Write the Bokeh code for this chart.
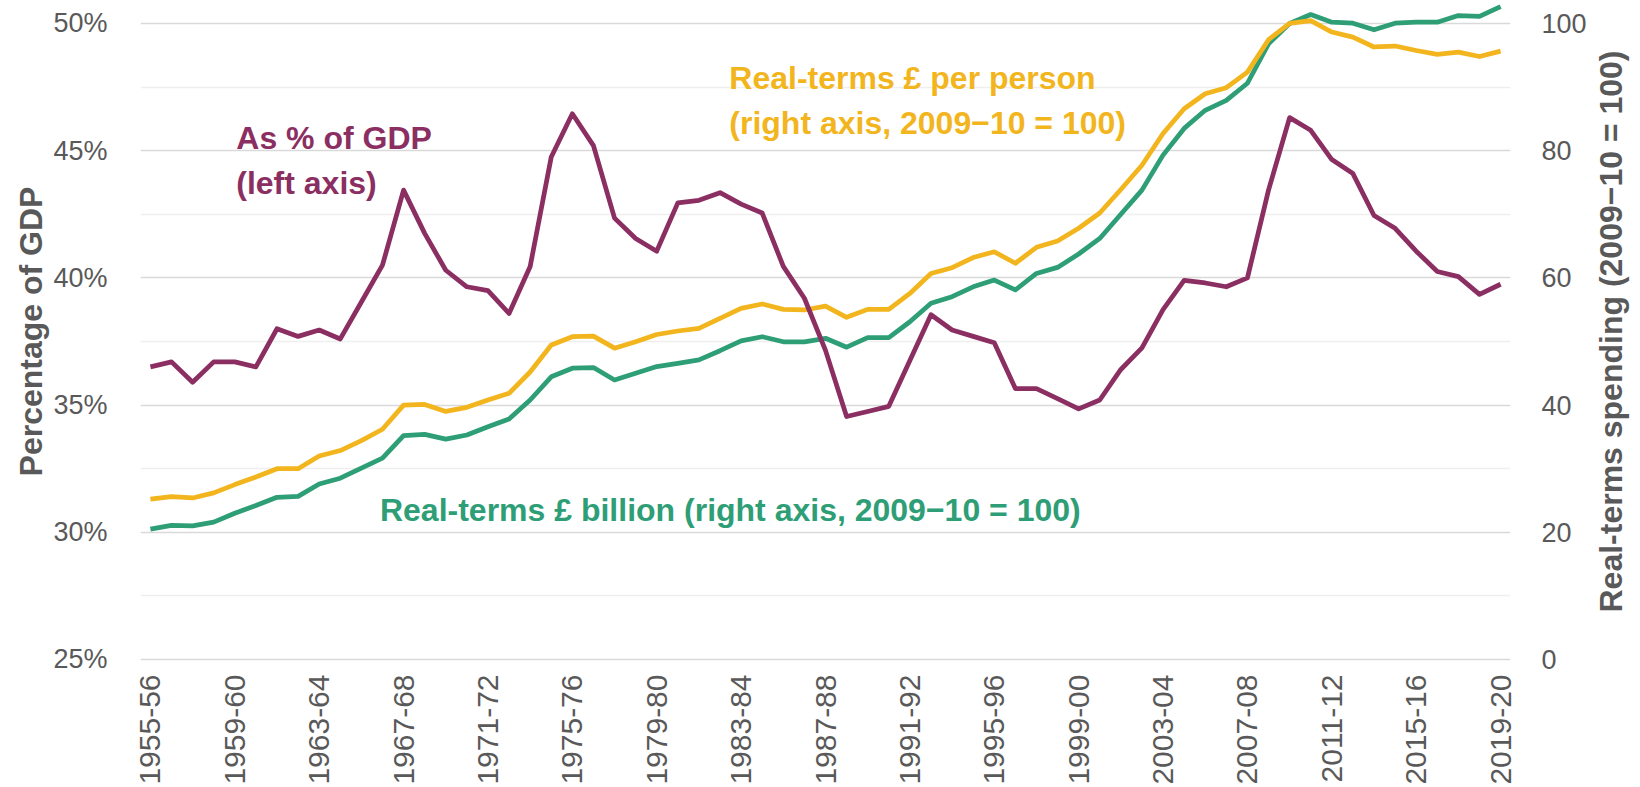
from math import pi
from bokeh.plotting import figure
from bokeh.layouts import row
from bokeh.models import (Range1d, LinearAxis, FixedTicker, PrintfTickFormatter, Label)
from bokeh.embed import file_html
from bokeh.resources import INLINE

# ---- data ----
seasons = [f"{y}-{str(y + 1)[-2:]}" for y in range(1955, 2020)]
tick_labels = ["1955-56", "1959-60", "1963-64", "1967-68", "1971-72", "1975-76",
               "1979-80", "1983-84", "1987-88", "1991-92", "1995-96", "1999-00",
               "2003-04", "2007-08", "2011-12", "2015-16", "2019-20"]

gdp_share = [36.5, 36.7, 35.9, 36.7, 36.7, 36.5, 38.0, 37.7, 37.95, 37.6,
             39.05, 40.5, 43.45, 41.75, 40.3, 39.65, 39.5, 38.6, 40.45, 44.75,
             46.45, 45.2, 42.35, 41.55, 41.05, 42.95, 43.05, 43.35, 42.9, 42.55,
             40.45, 39.2, 37.15, 34.55, 34.75, 34.95, 36.75, 38.55, 37.95, 37.7,
             37.45, 35.65, 35.65, 35.25, 34.85, 35.2, 36.4, 37.25, 38.75, 39.9,
             39.8, 39.65, 40.0, 43.45, 46.3, 45.8, 44.65, 44.1, 42.45, 41.95,
             41.05, 40.25, 40.05, 39.35, 39.75]

per_person = [25.2, 25.6, 25.4, 26.2, 27.5, 28.7, 30.0, 30.0, 32.0, 32.85,
              34.4, 36.2, 40.0, 40.1, 39.0, 39.65, 40.8, 41.85, 45.2, 49.45,
              50.75, 50.85, 48.95, 49.95, 51.1, 51.65, 52.05, 53.65, 55.2, 55.9,
              55.05, 54.95, 55.55, 53.8, 55.05, 55.05, 57.55, 60.7, 61.6, 63.2,
              64.1, 62.3, 64.8, 65.8, 67.8, 70.2, 73.9, 77.7, 82.7, 86.6,
              88.95, 89.9, 92.35, 97.45, 100.0, 100.45, 98.65, 97.85, 96.3, 96.45,
              95.75, 95.15, 95.5, 94.8, 95.65]

billion = [20.5, 21.1, 21.0, 21.6, 23.0, 24.2, 25.5, 25.65, 27.6, 28.5,
           30.1, 31.65, 35.2, 35.4, 34.65, 35.3, 36.6, 37.8, 40.8, 44.45,
           45.8, 45.9, 43.95, 45.0, 46.05, 46.55, 47.1, 48.55, 50.1, 50.75,
           49.95, 49.95, 50.5, 49.1, 50.6, 50.6, 53.1, 56.0, 57.05, 58.6,
           59.65, 58.1, 60.7, 61.65, 63.75, 66.2, 70.0, 73.8, 79.3, 83.5,
           86.35, 87.9, 90.6, 96.8, 100.0, 101.4, 100.2, 100.05, 99.0, 100.05,
           100.2, 100.2, 101.25, 101.1, 102.65]

left_ticks = [25, 30, 35, 40, 45, 50]
left_minor = [27.5, 32.5, 37.5, 42.5, 47.5]
right_ticks = [0, 20, 40, 60, 80, 100]

PURPLE = "#8B2F62"
YELLOW = "#F2B51D"
GREEN = "#2E9E76"
GREY = "#595959"
FONT = "Liberation Sans"

idx = list(range(len(seasons)))

MAIN_W = 1589
p = figure(width=MAIN_W, height=787, output_backend="svg", toolbar_location=None,
           x_range=Range1d(-0.47, 64.47), y_range=Range1d(24.882, 50.903),
           min_border_left=140, min_border_right=MAIN_W - 1513, min_border_top=0,
           min_border_bottom=124, background_fill_color="white",
           border_fill_color="white")
p.outline_line_color = None
p.extra_y_ranges = {"right": Range1d(-0.471, 103.61)}

# x axis
xa = p.xaxis[0]
tick_pos = [seasons.index(t) for t in tick_labels]
xa.ticker = FixedTicker(ticks=tick_pos)
xa.major_label_overrides = {i: seasons[i] for i in tick_pos}
xa.major_label_orientation = pi / 2
xa.major_label_text_font = FONT
xa.major_label_text_font_size = "30px"
xa.major_label_text_color = GREY
xa.major_label_standoff = 6
xa.axis_line_color = None
xa.major_tick_line_color = None
xa.minor_tick_line_color = None

# left axis
ya = p.yaxis[0]
ya.ticker = FixedTicker(ticks=left_ticks, minor_ticks=left_minor)
ya.formatter = PrintfTickFormatter(format="%d%%")
ya.major_label_text_font = FONT
ya.major_label_text_font_size = "27px"
ya.major_label_text_color = GREY
ya.major_label_standoff = 27
ya.axis_line_color = None
ya.major_tick_line_color = None
ya.minor_tick_line_color = None
ya.axis_label = "Percentage of GDP"
ya.axis_label_text_font = FONT
ya.axis_label_text_font_size = "32px"
ya.axis_label_text_font_style = "bold"
ya.axis_label_text_color = GREY
ya.axis_label_standoff = 1

# right axis (ticks only; title drawn in the side panel)
ra = LinearAxis(y_range_name="right", ticker=FixedTicker(ticks=right_ticks))
ra.major_label_text_font = FONT
ra.major_label_text_font_size = "27px"
ra.major_label_text_color = GREY
ra.major_label_standoff = 25
ra.axis_line_color = None
ra.major_tick_line_color = None
ra.minor_tick_line_color = None
p.add_layout(ra, "right")

# grid
p.xgrid.grid_line_color = None
p.ygrid.ticker = FixedTicker(ticks=left_ticks, minor_ticks=left_minor)
p.ygrid.grid_line_color = "#D9D9D9"
p.ygrid.grid_line_width = 1.5
p.ygrid.minor_grid_line_color = "#EFEFEF"
p.ygrid.minor_grid_line_width = 1.5

# lines
p.line(idx, billion, y_range_name="right", line_color=GREEN, line_width=4.75,
       line_join="round")
p.line(idx, per_person, y_range_name="right", line_color=YELLOW, line_width=4.75,
       line_join="round")
p.line(idx, gdp_share, line_color=PURPLE, line_width=4.75, line_join="round")

# annotations
def lab(x, y, text, color):
    p.add_layout(Label(x=x, y=y, text=text, text_color=color, text_font=FONT,
                       text_font_size="32px", text_font_style="bold",
                       text_baseline="alphabetic", text_align="left"))

lab(4.07, 45.49, "As % of GDP", PURPLE)
lab(4.07, 43.72, "(left axis)", PURPLE)
lab(27.44, 47.84, "Real-terms £ per person", YELLOW)
lab(27.44, 46.08, "(right axis, 2009\u221210 = 100)", YELLOW)
lab(10.88, 30.89, "Real-terms £ billion (right axis, 2009\u221210 = 100)", GREEN)

# side panel: its left axis carries the right-hand title (reads bottom to top)
SIDE_W = 1640 - MAIN_W
side = figure(width=SIDE_W, height=787, output_backend="svg",
              toolbar_location=None, x_range=Range1d(0, 1), y_range=Range1d(0, 1),
              x_axis_type=None, min_border_left=38, min_border_right=0,
              min_border_top=0, min_border_bottom=124,
              background_fill_color="white", border_fill_color="white")
side.outline_line_color = None
side.grid.grid_line_color = None
sa = side.yaxis[0]
sa.ticker = FixedTicker(ticks=[])
sa.axis_line_color = None
sa.major_tick_line_color = None
sa.minor_tick_line_color = None
sa.major_label_text_font_size = "0px"
sa.major_label_standoff = 0
sa.axis_label = "Real-terms spending (2009\u221210 = 100)"
sa.axis_label_text_font = FONT
sa.axis_label_text_font_size = "32px"
sa.axis_label_text_font_style = "bold"
sa.axis_label_text_color = GREY
sa.axis_label_standoff = 0

layout = row(p, side, spacing=0)
open("out.html", "w").write(file_html(layout, INLINE))
